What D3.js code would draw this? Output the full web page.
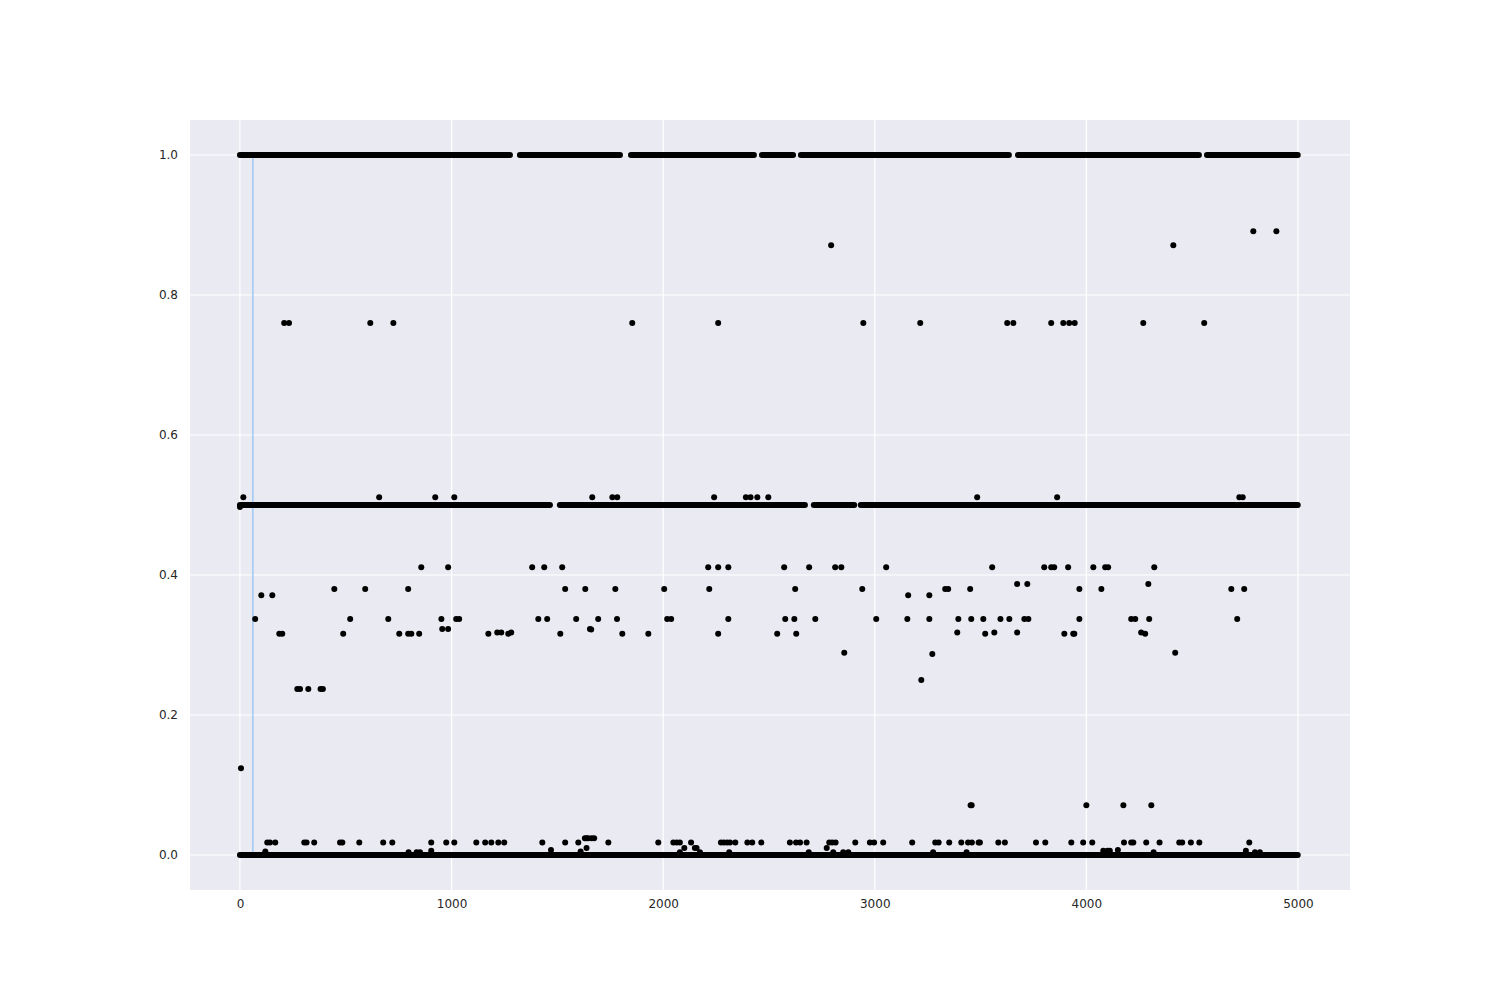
<!DOCTYPE html>
<html>
<head>
<meta charset="utf-8">
<script src="https://cdn.jsdelivr.net/npm/d3@7"></script>
<style>
  body { margin: 0; background: #ffffff; }
  text { font-family: "DejaVu Sans", sans-serif; }
</style>
</head>
<body>
<div class="chart"></div>
<script>
var svgWidth = 1500;
var svgHeight = 1000;

var margin = { top: 120, right: 150, bottom: 110, left: 190 };

var width = svgWidth - margin.left - margin.right;
var height = svgHeight - margin.top - margin.bottom;

// tick labels
var xTicks = [0, 1000, 2000, 3000, 4000, 5000];
var yTicks = [0.0, 0.2, 0.4, 0.6, 0.8, 1.0];

// dense runs of points, [first, last] point centre along x, for each level
var runsAt1 = [[0, 1276], [1323, 1796], [1848, 2429], [2467, 2614], [2651, 3634], [3677, 4532], [4570, 4999]];
var runsAtHalf = [[0, 1465], [1512, 2670], [2712, 2896], [2934, 4999]];
var runsAt0 = [[0, 4999]];

// marker line
var markerX = 61;

// scattered points [x, y]
var highPoints = [
  [2794, 0.871], [4411, 0.871], [4789, 0.891], [4898, 0.891],
  [209, 0.76], [232, 0.76], [616, 0.76], [725, 0.76], [1854, 0.76], [2260, 0.76],
  [2946, 0.76], [3215, 0.76], [3626, 0.76], [3655, 0.76], [3834, 0.76], [3891, 0.76],
  [3919, 0.76], [3945, 0.76], [4269, 0.76], [4557, 0.76],
  [16, 0.511], [658, 0.511], [923, 0.511], [1013, 0.511], [1665, 0.511], [1760, 0.511],
  [1783, 0.511], [2241, 0.511], [2391, 0.511], [2413, 0.511], [2445, 0.511], [2497, 0.511],
  [3484, 0.511], [3862, 0.511], [4723, 0.511], [4739, 0.511],
  [0, 0.497], [2903, 0.5]
];

var midPoints = [
  [857, 0.411], [984, 0.411], [1381, 0.411], [1438, 0.411], [1523, 0.411], [2213, 0.411],
  [2260, 0.411], [2308, 0.411], [2572, 0.411], [2690, 0.411], [2813, 0.411], [2842, 0.411],
  [3054, 0.411], [3555, 0.411], [3801, 0.411], [3834, 0.411], [3848, 0.411], [3914, 0.411],
  [4033, 0.411], [4089, 0.411], [4103, 0.411], [4321, 0.411],
  [3673, 0.387], [3721, 0.387], [4293, 0.387],
  [446, 0.38], [592, 0.38], [795, 0.38], [1537, 0.38], [1632, 0.38], [1774, 0.38],
  [2005, 0.38], [2218, 0.38], [2624, 0.38], [2941, 0.38], [3333, 0.38], [3347, 0.38],
  [3451, 0.38], [3967, 0.38], [4071, 0.38], [4685, 0.38], [4746, 0.38],
  [101, 0.371], [153, 0.371], [3158, 0.371], [3258, 0.371],
  [72, 0.337], [521, 0.337], [701, 0.337], [952, 0.337], [1022, 0.337], [1036, 0.337],
  [1410, 0.337], [1452, 0.337], [1589, 0.337], [1693, 0.337], [1782, 0.337], [2019, 0.337],
  [2038, 0.337], [2308, 0.337], [2577, 0.337], [2620, 0.337], [2719, 0.337], [3007, 0.337],
  [3154, 0.337], [3258, 0.337], [3395, 0.337], [3456, 0.337], [3513, 0.337], [3594, 0.337],
  [3636, 0.337], [3707, 0.337], [3726, 0.337], [3967, 0.337], [4212, 0.337], [4231, 0.337],
  [4297, 0.337], [4713, 0.337],
  [956, 0.323], [984, 0.323], [1654, 0.323], [1660, 0.322],
  [1216, 0.318], [1235, 0.318], [1282, 0.318], [3390, 0.318], [3565, 0.318], [3673, 0.318], [4259, 0.318],
  [186, 0.316], [200, 0.316], [488, 0.316], [753, 0.316], [795, 0.316], [810, 0.316],
  [847, 0.316], [1174, 0.316], [1268, 0.316], [1514, 0.316], [1807, 0.316], [1930, 0.316],
  [2260, 0.316], [2539, 0.316], [2629, 0.316], [3522, 0.316], [3896, 0.316], [3938, 0.316],
  [3943, 0.316], [4278, 0.316],
  [2856, 0.289], [4420, 0.289], [3272, 0.287], [3220, 0.25],
  [271, 0.237], [284, 0.237], [323, 0.237], [381, 0.237], [392, 0.237]
];

var lowPoints = [
  [5, 0.124],
  [3453, 0.071], [3458, 0.071], [4000, 0.071], [4175, 0.071], [4307, 0.071],
  [1630, 0.024], [1646, 0.024], [1662, 0.024], [1674, 0.024], [1638, 0.024],
  [129, 0.018], [142, 0.018], [167, 0.018], [304, 0.018], [315, 0.018], [351, 0.018],
  [473, 0.018], [484, 0.018], [564, 0.018], [677, 0.018], [720, 0.018], [904, 0.018],
  [975, 0.018], [1013, 0.018], [1117, 0.018], [1159, 0.018], [1188, 0.018], [1221, 0.018],
  [1249, 0.018], [1429, 0.018], [1537, 0.018], [1599, 0.018], [1741, 0.018], [1977, 0.018],
  [2048, 0.018], [2064, 0.018], [2079, 0.018], [2132, 0.018], [2273, 0.018], [2287, 0.018],
  [2302, 0.018], [2316, 0.018], [2341, 0.018], [2398, 0.018], [2421, 0.018], [2464, 0.018],
  [2599, 0.018], [2628, 0.018], [2647, 0.018], [2678, 0.018], [2785, 0.018], [2799, 0.018],
  [2815, 0.018], [2908, 0.018], [2977, 0.018], [2997, 0.018], [3040, 0.018], [3177, 0.018],
  [3286, 0.018], [3302, 0.018], [3352, 0.018], [3409, 0.018], [3441, 0.018], [3459, 0.018],
  [3491, 0.018], [3497, 0.018], [3584, 0.018], [3615, 0.018], [3762, 0.018], [3806, 0.018],
  [3929, 0.018], [3985, 0.018], [4028, 0.018], [4178, 0.018], [4212, 0.018], [4222, 0.018],
  [4283, 0.018], [4346, 0.018], [4439, 0.018], [4453, 0.018], [4494, 0.018], [4534, 0.018],
  [4770, 0.018],
  [1638, 0.01], [2100, 0.01], [2150, 0.01], [2158, 0.01], [2773, 0.01],
  [120, 0.005], [797, 0.004], [835, 0.004], [851, 0.004], [904, 0.006], [1470, 0.007],
  [1610, 0.005], [2079, 0.004], [2174, 0.004], [2312, 0.004], [2688, 0.004], [2804, 0.004],
  [2851, 0.004], [2875, 0.004], [3276, 0.004], [3434, 0.004], [4080, 0.006], [4100, 0.006],
  [4111, 0.006], [4149, 0.007], [4318, 0.004], [4754, 0.006], [4797, 0.004], [4820, 0.004]
];

var svg = d3.select(".chart")
  .append("svg")
  .attr("width", svgWidth)
  .attr("height", svgHeight);

var chartGroup = svg.append("g")
  .attr("transform", `translate(${margin.left}, ${margin.top})`);

var xLinearScale = d3.scaleLinear()
  .domain([-236, 5246])
  .range([0, width]);

var yLinearScale = d3.scaleLinear()
  .domain([-0.05, 1.05])
  .range([height, 0]);

// background
chartGroup.append("rect")
  .attr("width", width)
  .attr("height", height)
  .attr("fill", "#eaeaf2");

// grid
chartGroup.append("g")
  .selectAll("line")
  .data(xTicks)
  .enter()
  .append("line")
  .attr("x1", d => xLinearScale(d))
  .attr("x2", d => xLinearScale(d))
  .attr("y1", 0)
  .attr("y2", height)
  .attr("stroke", "#ffffff")
  .attr("stroke-width", 1.2);

chartGroup.append("g")
  .selectAll("line")
  .data(yTicks)
  .enter()
  .append("line")
  .attr("x1", 0)
  .attr("x2", width)
  .attr("y1", d => yLinearScale(d))
  .attr("y2", d => yLinearScale(d))
  .attr("stroke", "#ffffff")
  .attr("stroke-width", 1.2);

// axes, labels only
var bottomAxis = d3.axisBottom(xLinearScale)
  .tickValues(xTicks)
  .tickSize(0)
  .tickPadding(9)
  .tickFormat(d3.format("d"));

var leftAxis = d3.axisLeft(yLinearScale)
  .tickValues(yTicks)
  .tickSize(0)
  .tickPadding(12)
  .tickFormat(d3.format(".1f"));

var xAxis = chartGroup.append("g")
  .attr("transform", `translate(0, ${height})`)
  .call(bottomAxis);

var yAxis = chartGroup.append("g")
  .call(leftAxis);

[xAxis, yAxis].forEach(function (ax) {
  ax.select(".domain").remove();
  ax.selectAll("text")
    .attr("fill", "#262626")
    .style("font-size", "12px")
    .style("font-family", "DejaVu Sans, sans-serif");
});

// marker line
chartGroup.append("line")
  .attr("x1", xLinearScale(markerX))
  .attr("x2", xLinearScale(markerX))
  .attr("y1", yLinearScale(0))
  .attr("y2", yLinearScale(1))
  .attr("stroke", "#a1c9f4")
  .attr("stroke-width", 1.5);

// dense runs
var runs = [];
runsAt1.forEach(r => runs.push({ x0: r[0], x1: r[1], y: 1.0 }));
runsAtHalf.forEach(r => runs.push({ x0: r[0], x1: r[1], y: 0.5 }));
runsAt0.forEach(r => runs.push({ x0: r[0], x1: r[1], y: 0.0 }));

chartGroup.append("g")
  .selectAll("line")
  .data(runs)
  .enter()
  .append("line")
  .attr("x1", d => xLinearScale(d.x0))
  .attr("x2", d => xLinearScale(d.x1))
  .attr("y1", d => yLinearScale(d.y))
  .attr("y2", d => yLinearScale(d.y))
  .attr("stroke", "#000000")
  .attr("stroke-width", 6)
  .attr("stroke-linecap", "round");

// scattered points
var allPoints = highPoints.concat(midPoints, lowPoints);

chartGroup.append("g")
  .selectAll("circle")
  .data(allPoints)
  .enter()
  .append("circle")
  .attr("cx", d => xLinearScale(d[0]))
  .attr("cy", d => yLinearScale(d[1]))
  .attr("r", 3)
  .attr("fill", "#000000");
</script>
</body>
</html>
